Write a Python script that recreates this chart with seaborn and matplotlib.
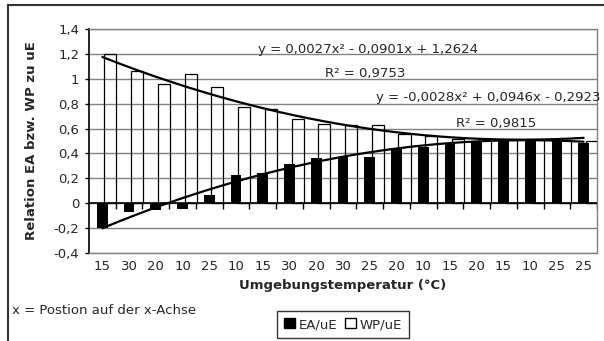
import numpy as np
import pandas as pd
import matplotlib
matplotlib.use("Agg")
import matplotlib.pyplot as plt
import seaborn as sns
from matplotlib.patches import Patch, Rectangle
from matplotlib.ticker import FuncFormatter

# Ambient temperature for each measurement (x-axis categories, in order)
temps = ["15", "30", "20", "10", "25", "10", "15", "30", "20", "30",
         "25", "20", "10", "15", "20", "15", "10", "25", "25"]

# Ratio EA / uE per measurement
ea_ue = [-0.20, -0.07, -0.055, -0.045, 0.065, 0.225, 0.245, 0.315, 0.365, 0.375,
         0.37, 0.435, 0.455, 0.48, 0.495, 0.50, 0.50, 0.50, 0.485]

# Ratio WP / uE per measurement
wp_ue = [1.20, 1.065, 0.955, 1.035, 0.935, 0.775, 0.755, 0.68, 0.64, 0.63,
         0.625, 0.555, 0.54, 0.52, 0.515, 0.51, 0.51, 0.51, 0.50]

# Polynomial trend lines (x = position on the x-axis), highest power first
wp_fit = [0.0027, -0.0901, 1.2624]
wp_r2 = 0.9753
ea_fit = [-0.0028, 0.0946, -0.2923]
ea_r2 = 0.9815

W, H = 604, 341
FS = 9.5

sns.set_theme(style="white")
plt.rcParams["font.family"] = ["DejaVu Sans"]

fig = plt.figure(figsize=(W / 100, H / 100), dpi=100)
fig.patch.set_facecolor("white")


def fx(px):
    return px / W


def fy(py):
    return 1 - py / H


ax = fig.add_axes([fx(89), fy(253), fx(597) - fx(89), fy(29) - fy(253)])
ax.set_facecolor("white")

pos = np.arange(1, len(temps) + 1)
df = pd.DataFrame({"pos": pos, "ea": ea_ue, "wp": wp_ue})
df["pos_wp"] = df["pos"] + 0.3

# outlined WP bars behind, solid EA bars in front
sns.barplot(data=df, x="pos_wp", y="wp", native_scale=True, width=0.45,
            fill=False, color="black", linewidth=0.9, errorbar=None,
            ax=ax, zorder=2)
sns.barplot(data=df, x="pos", y="ea", native_scale=True, width=0.40,
            color="black", saturation=1, linewidth=0, errorbar=None,
            ax=ax, zorder=3)

# trend lines
xs = np.linspace(1, len(temps), 200)
sns.lineplot(x=xs, y=np.polyval(wp_fit, xs), color="black", linewidth=1.6,
             ax=ax, zorder=5)
sns.lineplot(x=xs, y=np.polyval(ea_fit, xs), color="black", linewidth=1.6,
             ax=ax, zorder=5)

# category axis crossing at zero with tick marks between categories
ax.axhline(0, color="black", linewidth=1.2, zorder=4)
ax.vlines(np.arange(1.5, len(temps) + 0.6, 1.0), -0.045, 0, color="black",
          linewidth=1, zorder=4)

ax.set_xlim(0.5, len(temps) + 0.5)
ax.set_ylim(-0.4, 1.4)
ax.set_yticks(np.round(np.arange(-0.4, 1.41, 0.2), 1))
ax.set_xticks(pos)
ax.set_xticklabels(temps)


def comma_fmt(v, _):
    s = f"{v:.1f}"
    if s.endswith(".0"):
        s = s[:-2]
    if s == "-0":
        s = "0"
    return s.replace(".", ",")


ax.yaxis.set_major_formatter(FuncFormatter(comma_fmt))
ax.yaxis.grid(True, color="#808080", linewidth=1)
ax.xaxis.grid(False)
ax.set_axisbelow(True)

for side in ["top", "right", "bottom"]:
    ax.spines[side].set_color("#808080")
    ax.spines[side].set_linewidth(1)
ax.spines["left"].set_color("black")
ax.spines["left"].set_linewidth(1.2)

ax.tick_params(axis="y", direction="out", length=3, width=1, color="black",
               labelsize=FS, pad=4, left=True)
ax.tick_params(axis="x", length=0, labelsize=FS, pad=5)
ax.set_xlabel("")
ax.set_ylabel("")

# axis titles
fig.text(fx(343), fy(285), "Umgebungstemperatur (°C)", ha="center",
         va="center", fontsize=FS, fontweight="bold")
fig.text(fx(32), fy(141), "Relation EA bzw. WP zu uE", ha="center",
         va="center", rotation=90, fontsize=FS, fontweight="bold")


def eq_text(c):
    def num(v):
        return f"{abs(v):.4f}".replace(".", ",")
    a, b, k = c
    sa = "-" if a < 0 else ""
    sb = "-" if b < 0 else "+"
    sk = "-" if k < 0 else "+"
    return f"y = {sa}{num(a)}x² {sb} {num(b)}x {sk} {num(k)}"


def r2_text(r):
    return "R² = " + f"{r:.4f}".replace(".", ",")


fig.text(fx(258), fy(50), eq_text(wp_fit), ha="left", va="center", fontsize=FS)
fig.text(fx(325), fy(73), r2_text(wp_r2), ha="left", va="center", fontsize=FS)
fig.text(fx(601), fy(97), eq_text(ea_fit), ha="right", va="center", fontsize=FS)
fig.text(fx(456), fy(123), r2_text(ea_r2), ha="left", va="center", fontsize=FS)

fig.text(fx(12), fy(311), "x = Postion auf der x-Achse", ha="left",
         va="center", fontsize=FS)

leg = fig.legend(
    handles=[Patch(facecolor="black", edgecolor="black"),
             Patch(facecolor="white", edgecolor="black")],
    labels=["EA/uE", "WP/uE"], ncol=2, loc="center",
    bbox_to_anchor=(fx(343), fy(324.5)), frameon=True, fancybox=False,
    edgecolor="black", handlelength=0.8, handleheight=0.8,
    handletextpad=0.3, columnspacing=0.6, borderpad=0.5, borderaxespad=0,
    fontsize=FS)
leg.get_frame().set_linewidth(1)

# chart area frame
fig.add_artist(Rectangle((fx(8), -0.1), 1.2, fy(5) + 0.1,
                         transform=fig.transFigure, fill=False,
                         edgecolor="#333333", linewidth=1.5))

fig.savefig("out.png", dpi=100)
